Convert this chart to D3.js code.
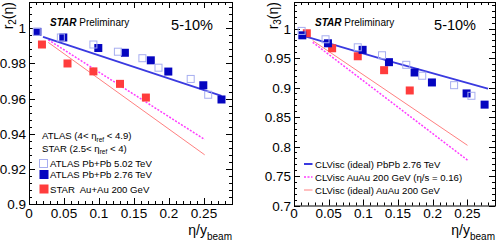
<!DOCTYPE html>
<html><head><meta charset="utf-8">
<script src="https://cdn.jsdelivr.net/npm/d3@7"></script>
<style>body{margin:0;background:#fff}svg{display:block;font-family:"Liberation Sans",Arial,sans-serif}</style>
</head><body><svg id="c" width="499" height="242"></svg>
<script>
// ---- data ----
const xTicks = [0, 0.05, 0.1, 0.15, 0.2, 0.25];
const xTickLabels = ["0", "0.05", "0.1", "0.15", "0.2", "0.25"];
const r2Ticks = [0.9, 0.92, 0.94, 0.96, 0.98, 1];
const r2TickLabels = ["0.9", "0.92", "0.94", "0.96", "0.98", "1"];
const r3Ticks = [0.7, 0.75, 0.8, 0.85, 0.9, 0.95, 1];
const r3TickLabels = ["0.7", "0.75", "0.8", "0.85", "0.9", "0.95", "1"];

const atlas276X = [0.012, 0.049, 0.099, 0.137, 0.174, 0.199, 0.249, 0.275];
const atlas502X = [0.011, 0.0455, 0.092, 0.127, 0.162, 0.185, 0.231, 0.256];
const starX = [0.0185, 0.055, 0.092, 0.130, 0.167];

const r2Atlas276 = [0.998, 0.9948, 0.9888, 0.9861, 0.9818, 0.9754, 0.9676, 0.9595];
const r2Atlas502 = [0.998, 0.9948, 0.9908, 0.9867, 0.983, 0.9776, 0.9712, 0.9622];
const r2Star = [0.9908, 0.980, 0.9755, 0.9684, 0.9606];

const r3Atlas276 = [0.9885, 0.975, 0.9639, 0.943, 0.9255, 0.9086, 0.890, 0.871];
const r3Atlas502 = [0.996, 0.9818, 0.9682, 0.9547, 0.9385, 0.920, 0.904, 0.886];
const r3Star = [0.992, 0.9666, 0.953, 0.9294, 0.895];

const r2IdealPbX = [0.02, 0.275], r2IdealPb = [0.9952, 0.9616];
const r2ViscAuX = [0.0275, 0.251], r2ViscAu = [0.9935, 0.9367];
const r2IdealAuX = [0.0275, 0.251], r2IdealAu = [0.992, 0.928];

const r3IdealPbX = [0.015, 0.14, 0.28], r3IdealPb = [0.987, 0.944, 0.898];
const r3ViscAuX = [0.027, 0.2503], r3ViscAu = [0.9767, 0.777];
const r3IdealAuX = [0.027, 0.2503], r3IdealAu = [0.9796, 0.802];

// ---- styles ----
const C = {
  filled: "#0505c0", open: "#a7aef0", red: "#ff3c3c",
  lineBlue: "#3a3ae0", lineMag: "#ff3cff", lineSalmon: "#ff8080"
};
const svg = d3.select("#c");
const zip = (xs, ys) => xs.map((x, i) => [x, ys[i]]);

function panel(o) {
  const x = d3.scaleLinear().domain([0, 0.29]).range([o.x0, o.x1]);
  const y = d3.scaleLinear().domain(o.ydom).range([o.y1, o.y0]);
  const g = svg.append("g");
  const xMinor = d3.range(0, 0.2901, 0.01);
  const yMinor = d3.range(o.ydom[0], o.ydom[1] + 1e-9, o.yminor);
  const tk = g.append("g").attr("stroke", "#000").attr("stroke-width", 1);
  xMinor.forEach(v => {
    const major = Math.abs(v / 0.05 - Math.round(v / 0.05)) < 1e-6;
    const L = major ? 6 : 3;
    const px = Math.round(x(v)) + 0.5;
    tk.append("line").attr("x1", px).attr("x2", px).attr("y1", o.y1).attr("y2", o.y1 - L);
    tk.append("line").attr("x1", px).attr("x2", px).attr("y1", o.y0).attr("y2", o.y0 + L);
  });
  yMinor.forEach(v => {
    const major = o.yticks.some(t => Math.abs(t - v) < 1e-6);
    const L = major ? 6 : 3;
    const py = Math.round(y(v)) + 0.5;
    tk.append("line").attr("x1", o.x0).attr("x2", o.x0 + L).attr("y1", py).attr("y2", py);
    tk.append("line").attr("x1", o.x1).attr("x2", o.x1 - L).attr("y1", py).attr("y2", py);
  });
  g.append("rect").attr("x", o.x0 + 0.5).attr("y", o.y0 + 0.5)
    .attr("width", o.x1 - o.x0).attr("height", o.y1 - o.y0)
    .attr("fill", "none").attr("stroke", "#000").attr("stroke-width", 1);
  xTicks.forEach((v, i) => g.append("text").attr("x", x(v)).attr("y", 218)
    .attr("text-anchor", "middle").attr("font-size", 13.5).text(xTickLabels[i]));
  o.yticks.forEach((v, i) => g.append("text").attr("x", o.x0 - 3).attr("y", y(v) + 5)
    .attr("text-anchor", "end").attr("font-size", 13.5).text(o.ylabels[i]));
  const xt = g.append("text").attr("x", o.x1).attr("y", 235).attr("text-anchor", "end").attr("font-size", 14);
  xt.append("tspan").text("η/y");
  xt.append("tspan").attr("font-size", 10).attr("dy", 4.5).text("beam");
  const yt = g.append("text").attr("transform", `translate(${o.x0 - 16},2) rotate(-90)`)
    .attr("text-anchor", "end").attr("font-size", 14);
  yt.append("tspan").text("r");
  yt.append("tspan").attr("font-size", 10).attr("dy", 3).text(o.sub);
  yt.append("tspan").attr("dy", -3).text("(η)");
  const sp = g.append("text").attr("x", o.x0 + 21).attr("y", 25.5).attr("font-size", 10);
  sp.append("tspan").attr("font-weight", "bold").attr("font-style", "italic").text("STAR");
  sp.append("tspan").text(" Preliminary");
  g.append("text").attr("x", o.x1 - 19).attr("y", 30).attr("text-anchor", "end")
    .attr("font-size", 14.5).text("5-10%");
  const line = d3.line().x(d => x(d[0])).y(d => y(d[1])).curve(d3.curveMonotoneX);
  const lg = g.append("g");
  o.lines.forEach(l => lg.append("path").attr("d", line(l.pts)).attr("fill", "none")
    .attr("stroke", l.color).attr("stroke-width", l.w).attr("stroke-dasharray", l.dash || null));
  const s = 8;
  const mk = g.append("g");
  zip(starX, o.star).forEach(d => mk.append("rect").attr("x", x(d[0]) - s / 2).attr("y", y(d[1]) - s / 2)
    .attr("width", s).attr("height", s).attr("fill", C.red));
  zip(atlas276X, o.a276).forEach(d => mk.append("rect").attr("x", x(d[0]) - s / 2).attr("y", y(d[1]) - s / 2)
    .attr("width", s).attr("height", s).attr("fill", C.filled));
  zip(atlas502X, o.a502).forEach(d => mk.append("rect").attr("x", x(d[0]) - s / 2 + 0.5).attr("y", y(d[1]) - s / 2 + 0.5)
    .attr("width", s - 1).attr("height", s - 1).attr("fill", "none").attr("stroke", C.open).attr("stroke-width", 1));
  return { x, y, g };
}

panel({
  x0: 29, x1: 232, y0: 2, y1: 204, ydom: [0.9, 1.015], yminor: 0.004,
  yticks: r2Ticks, ylabels: r2TickLabels, sub: "2",
  star: r2Star, a276: r2Atlas276, a502: r2Atlas502,
  lines: [
    { pts: zip(r2IdealAuX, r2IdealAu), color: C.lineSalmon, w: 1 },
    { pts: zip(r2ViscAuX, r2ViscAu), color: C.lineMag, w: 1.5, dash: "2,1.5" },
    { pts: zip(r2IdealPbX, r2IdealPb), color: C.lineBlue, w: 1.8 }
  ]
});
panel({
  x0: 294, x1: 495, y0: 2, y1: 205.5, ydom: [0.7, 1.045], yminor: 0.01,
  yticks: r3Ticks, ylabels: r3TickLabels, sub: "3",
  star: r3Star, a276: r3Atlas276, a502: r3Atlas502,
  lines: [
    { pts: zip(r3IdealAuX, r3IdealAu), color: C.lineSalmon, w: 1 },
    { pts: zip(r3ViscAuX, r3ViscAu), color: C.lineMag, w: 1.5, dash: "2,1.5" },
    { pts: zip(r3IdealPbX, r3IdealPb), color: C.lineBlue, w: 1.8 }
  ]
});

// left legend
const lgL = svg.append("g").attr("font-size", 9.6);
const h1 = lgL.append("text").attr("x", 42).attr("y", 139);
h1.append("tspan").text("ATLAS (4< η");
h1.append("tspan").attr("font-size", 6.5).attr("dy", 2.5).text("ref");
h1.append("tspan").attr("dy", -2.5).text(" < 4.9)");
const h2 = lgL.append("text").attr("x", 42).attr("y", 151.5);
h2.append("tspan").text("STAR (2.5< η");
h2.append("tspan").attr("font-size", 6.5).attr("dy", 2.5).text("ref");
h2.append("tspan").attr("dy", -2.5).text(" < 4)");
const legL = [
  { label: "ATLAS Pb+Pb 5.02 TeV", type: "open", cy: 163.5 },
  { label: "ATLAS Pb+Pb 2.76 TeV", type: "filled", cy: 174.5 },
  { label: "STAR  Au+Au 200 GeV", type: "red", cy: 189 }
];
legL.forEach(d => {
  if (d.type === "open") lgL.append("rect").attr("x", 39.5).attr("y", d.cy - 4).attr("width", 8).attr("height", 8)
    .attr("fill", "none").attr("stroke", C.open);
  else lgL.append("rect").attr("x", 39.5).attr("y", d.cy - 4.5).attr("width", 9).attr("height", 9)
    .attr("fill", d.type === "filled" ? C.filled : C.red);
  lgL.append("text").attr("x", 50).attr("y", d.cy + 3.5).style("white-space", "pre").text(d.label);
});

// right legend
const rg = svg.append("g").attr("font-size", 9.6);
const legR = [
  { label: "CLVisc (ideal) PbPb 2.76 TeV", color: C.lineBlue, w: 2, cy: 164 },
  { label: "CLVisc AuAu 200 GeV (η/s = 0.16)", color: C.lineMag, w: 1.5, dash: "2,1.5", cy: 177 },
  { label: "CLVisc (ideal) AuAu 200 GeV", color: C.lineSalmon, w: 1, cy: 190 }
];
legR.forEach(d => {
  rg.append("line").attr("x1", 304).attr("x2", 312.5).attr("y1", d.cy).attr("y2", d.cy)
    .attr("stroke", d.color).attr("stroke-width", d.w).attr("stroke-dasharray", d.dash || null);
  rg.append("text").attr("x", 315).attr("y", d.cy + 3.5).text(d.label);
});
</script></body></html>
